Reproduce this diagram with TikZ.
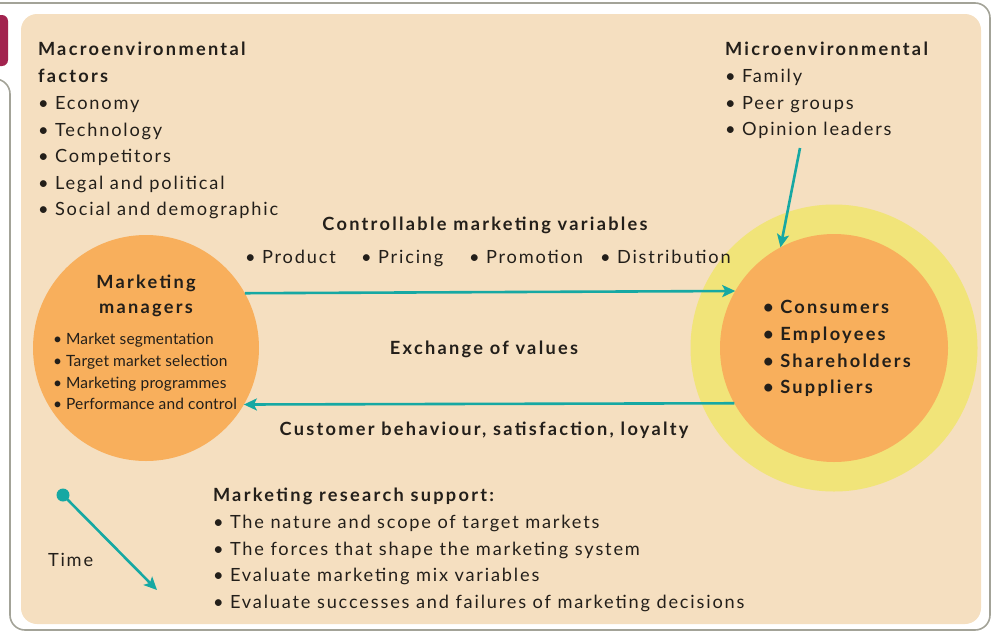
\documentclass[tikz,border=0pt]{standalone}
\usepackage{fontspec}
\setmainfont{Lato}
\newfontfamily\regfont[LetterSpace=10]{Lato}
\newfontfamily\boldfont[LetterSpace=12.5]{Lato Bold}
\newfontfamily\smallfont[LetterSpace=1]{Lato}
\usetikzlibrary{arrows.meta}
\definecolor{beige}{HTML}{F5DFC0}
\definecolor{orangec}{HTML}{F8AF5C}
\definecolor{yellowc}{HTML}{F1E479}
\definecolor{tealc}{HTML}{16A8A3}
\definecolor{maroonc}{HTML}{A2234E}
\definecolor{framec}{HTML}{A3A398}
\definecolor{inkc}{HTML}{231F1A}
\tikzset{
  txt/.style={anchor=base west, inner sep=0pt, outer sep=0pt, text=inkc, font=\regfont\fontsize{18.2}{20}\selectfont},
  btxt/.style={txt, font=\boldfont\fontsize{18.2}{20}\selectfont},
  ctxt/.style={anchor=base, inner sep=0pt, text=inkc, font=\boldfont\fontsize{18.2}{20}\selectfont},
  stxt/.style={txt, font=\smallfont\fontsize{15.5}{16}\selectfont},
  arr/.style={draw=tealc, line width=2.6pt, -{Stealth[length=13pt,width=12pt,inset=3pt]}},
}
\begin{document}
\begin{tikzpicture}[x=1pt,y=-1pt]
\useasboundingbox (0,0) rectangle (992,632);
% outer frame
\draw[framec, line width=1.6pt, rounded corners=15pt] (-40,3) -- (990,3) -- (990,630) -- (10,630) -- (10,79) [sharp corners] -- (-40,79);
\fill[maroonc, rounded corners=6pt] (-30,15) rectangle (8,66);
% panel
\fill[beige, rounded corners=16pt] (21,14) rectangle (981,624);
% circles
\node[circle, fill=orangec, minimum size=226pt, inner sep=0pt, outer sep=0pt] (mm) at (146,348) {};
\node[circle, fill=yellowc, minimum size=287pt, inner sep=0pt, outer sep=0pt] (env) at (834,348) {};
\node[circle, fill=orangec, minimum size=228pt, inner sep=0pt, outer sep=0pt] (cons) at (834,348) {};
% macro
\node[btxt] (macro1) at (38,55) {Macroenvironmental};
\node[btxt] (macro2) at (38,82) {factors};
\node[txt] (m1) at (38,109) {• Economy};
\node[txt] (m2) at (38,136) {• Technology};
\node[txt] (m3) at (38,162) {• Competitors};
\node[txt] (m4) at (38,189) {• Legal and political};
\node[txt] (m5) at (38,215) {• Social and demographic};
% micro
\node[btxt] (micro) at (725,55) {Microenvironmental};
\node[txt] (f1) at (725,82) {• Family};
\node[txt] (f2) at (725,109) {• Peer groups};
\node[txt] (f3) at (725,135) {• Opinion leaders};
% controllable
\node[ctxt] (ctrl) at (485,230) {Controllable marketing variables};
\node[txt] (p1) at (245,263) {• Product};
\node[txt] (p2) at (361,263) {• Pricing};
\node[txt] (p3) at (469,263) {• Promotion};
\node[txt] (p4) at (600,263) {• Distribution};
% marketing managers
\node[ctxt] (mm1) at (146,288) {Marketing};
\node[ctxt] (mm2) at (146,313) {managers};
\node[stxt] (s1) at (53,344) {• Market segmentation};
\node[stxt] (s2) at (53,366) {• Target market selection};
\node[stxt] (s3) at (53,388) {• Marketing programmes};
\node[stxt] (s4) at (53,409) {• Performance and control};
% exchange
\node[ctxt] (exch) at (484,354) {Exchange of values};
\node[ctxt] (cust) at (484,435) {Customer behaviour, satisfaction, loyalty};
% consumers
\node[btxt] (c1) at (763,313) {• Consumers};
\node[btxt] (c2) at (763,340) {• Employees};
\node[btxt] (c3) at (763,367) {• Shareholders};
\node[btxt] (c4) at (763,393) {• Suppliers};
% research
\node[btxt] (res) at (213,501) {Marketing research support:};
\node[txt] (r1) at (213,528) {• The nature and scope of target markets};
\node[txt] (r2) at (213,555) {• The forces that shape the marketing system};
\node[txt] (r3) at (213,581) {• Evaluate marketing mix variables};
\node[txt] (r4) at (213,608) {• Evaluate successes and failures of marketing decisions};
% time
\node[txt] (time) at (48,566) {Time};
\node[circle, fill=tealc, minimum size=13pt, inner sep=0pt] (dot) at (63,495) {};
\coordinate (tend) at (157,590);
\coordinate (mstart) at (800,148);
% arrows
\draw[arr] (mm.29.7) -- (cons.150.5);
\draw[arr] (cons.209.5) -- (mm.-30.3);
\draw[arr] (mstart) -- (cons.118);
\draw[arr] (dot.center) -- (tend);
\end{tikzpicture}
\end{document}
